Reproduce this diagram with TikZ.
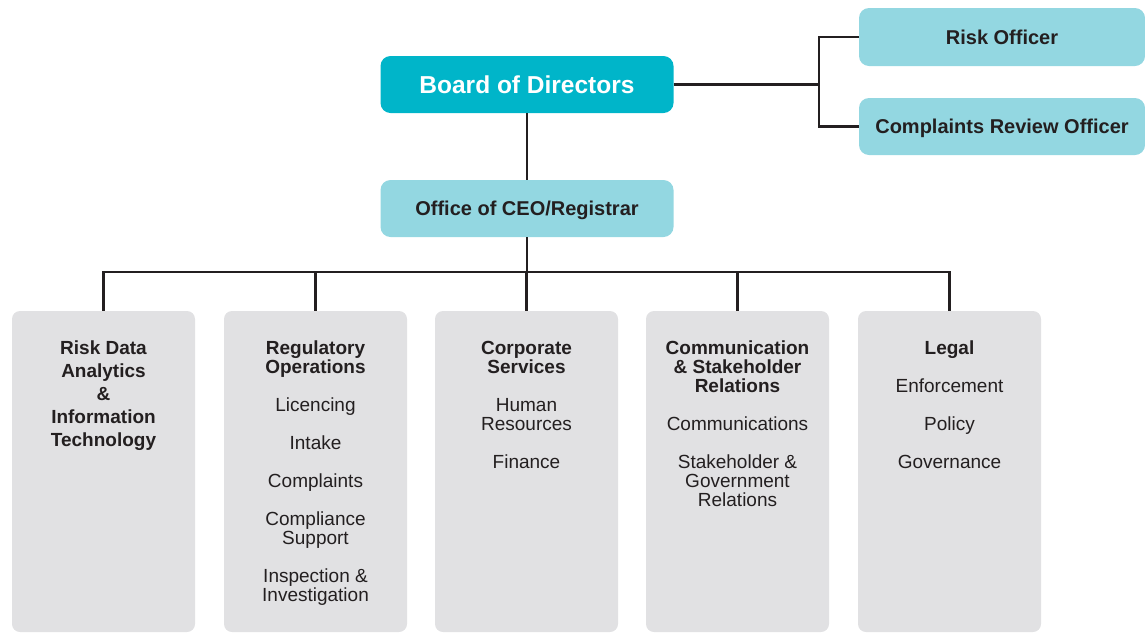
\documentclass[tikz,border=0pt]{standalone}
\usepackage{fontspec}
\setmainfont{Liberation Sans}
\usetikzlibrary{positioning}
\definecolor{boardcyan}{HTML}{00B5C9}
\definecolor{officecyan}{HTML}{93D7E1}
\definecolor{unitgrey}{HTML}{E1E1E3}
\definecolor{inkdark}{HTML}{231F20}
\tikzset{
    topbox/.style={fill=officecyan, rounded corners=10pt, inner sep=0pt,
        text height=14.3pt, text depth=0pt,
        text=inkdark, font=\bfseries\fontsize{20}{24}\selectfont},
    unitbox/.style={fill=unitgrey, rounded corners=8pt, inner sep=0pt,
        minimum width=183pt, minimum height=321pt},
    unittext/.style={anchor=north, inner sep=0pt, align=center, text=inkdark,
        font=\fontsize{19}{19}\selectfont},
    link/.style={draw=inkdark, line width=2.6pt},
}

\begin{document}
\begin{tikzpicture}[x=1pt, y=-1pt]
\useasboundingbox (0,0) rectangle (1145,633);

% top of the chart
\node[topbox, fill=boardcyan, text=white, minimum width=293pt, minimum height=57pt, text height=17.5pt,
    font=\bfseries\fontsize{24.5}{28}\selectfont] (board) at (527,84.5) {Board of Directors};
\node[topbox, minimum width=293pt, minimum height=57pt] (office) at (527,208.5) {Office of CEO/Registrar};
\node[topbox, minimum width=286pt, minimum height=58pt] (riskoff) at (1002,37) {Risk Officer};
\node[topbox, minimum width=286pt, minimum height=57pt] (cro) at (1002,126.5) {Complaints Review Officer};

% the five units
\node[unitbox] (rdat) at (103.5,471.5) {};
\node[unitbox] (regops) at (315.5,471.5) {};
\node[unitbox] (corp) at (526.5,471.5) {};
\node[unitbox] (comms) at (737.5,471.5) {};
\node[unitbox] (legal) at (949.5,471.5) {};

\node[unittext, font=\bfseries\fontsize{19}{23}\selectfont] (rdat-t) at (103.5,341)
    {Risk Data\\Analytics\\\&\\Information\\Technology};
\node[unittext] (regops-t) at (315.5,341)
    {\textbf{Regulatory}\\\textbf{Operations}\\[19pt]Licencing\\[19pt]Intake\\[19pt]Complaints\\[19pt]
     Compliance\\Support\\[19pt]Inspection \&\\Investigation};
\node[unittext] (corp-t) at (526.5,341)
    {\textbf{Corporate}\\\textbf{Services}\\[19pt]Human\\Resources\\[19pt]Finance};
\node[unittext] (comms-t) at (737.5,341)
    {\textbf{Communication}\\\textbf{\& Stakeholder}\\\textbf{Relations}\\[19pt]Communications\\[19pt]
     Stakeholder \&\\Government\\Relations};
\node[unittext] (legal-t) at (949.5,341)
    {\textbf{Legal}\\[19pt]Enforcement\\[19pt]Policy\\[19pt]Governance};

% connectors
\coordinate (split) at (819,84.5);
\coordinate (bus) at (527,272);
\draw[link] (board.east) -- (split);
\draw[link] (split) |- (riskoff.west);
\draw[link] (split) |- (cro.west);
\draw[link] (board.south) -- (office.north);
\draw[link] (office.south) -- (bus);
\foreach \unit in {rdat,regops,corp,comms,legal}
    \draw[link] (bus) -| (\unit.north);
\end{tikzpicture}
\end{document}
